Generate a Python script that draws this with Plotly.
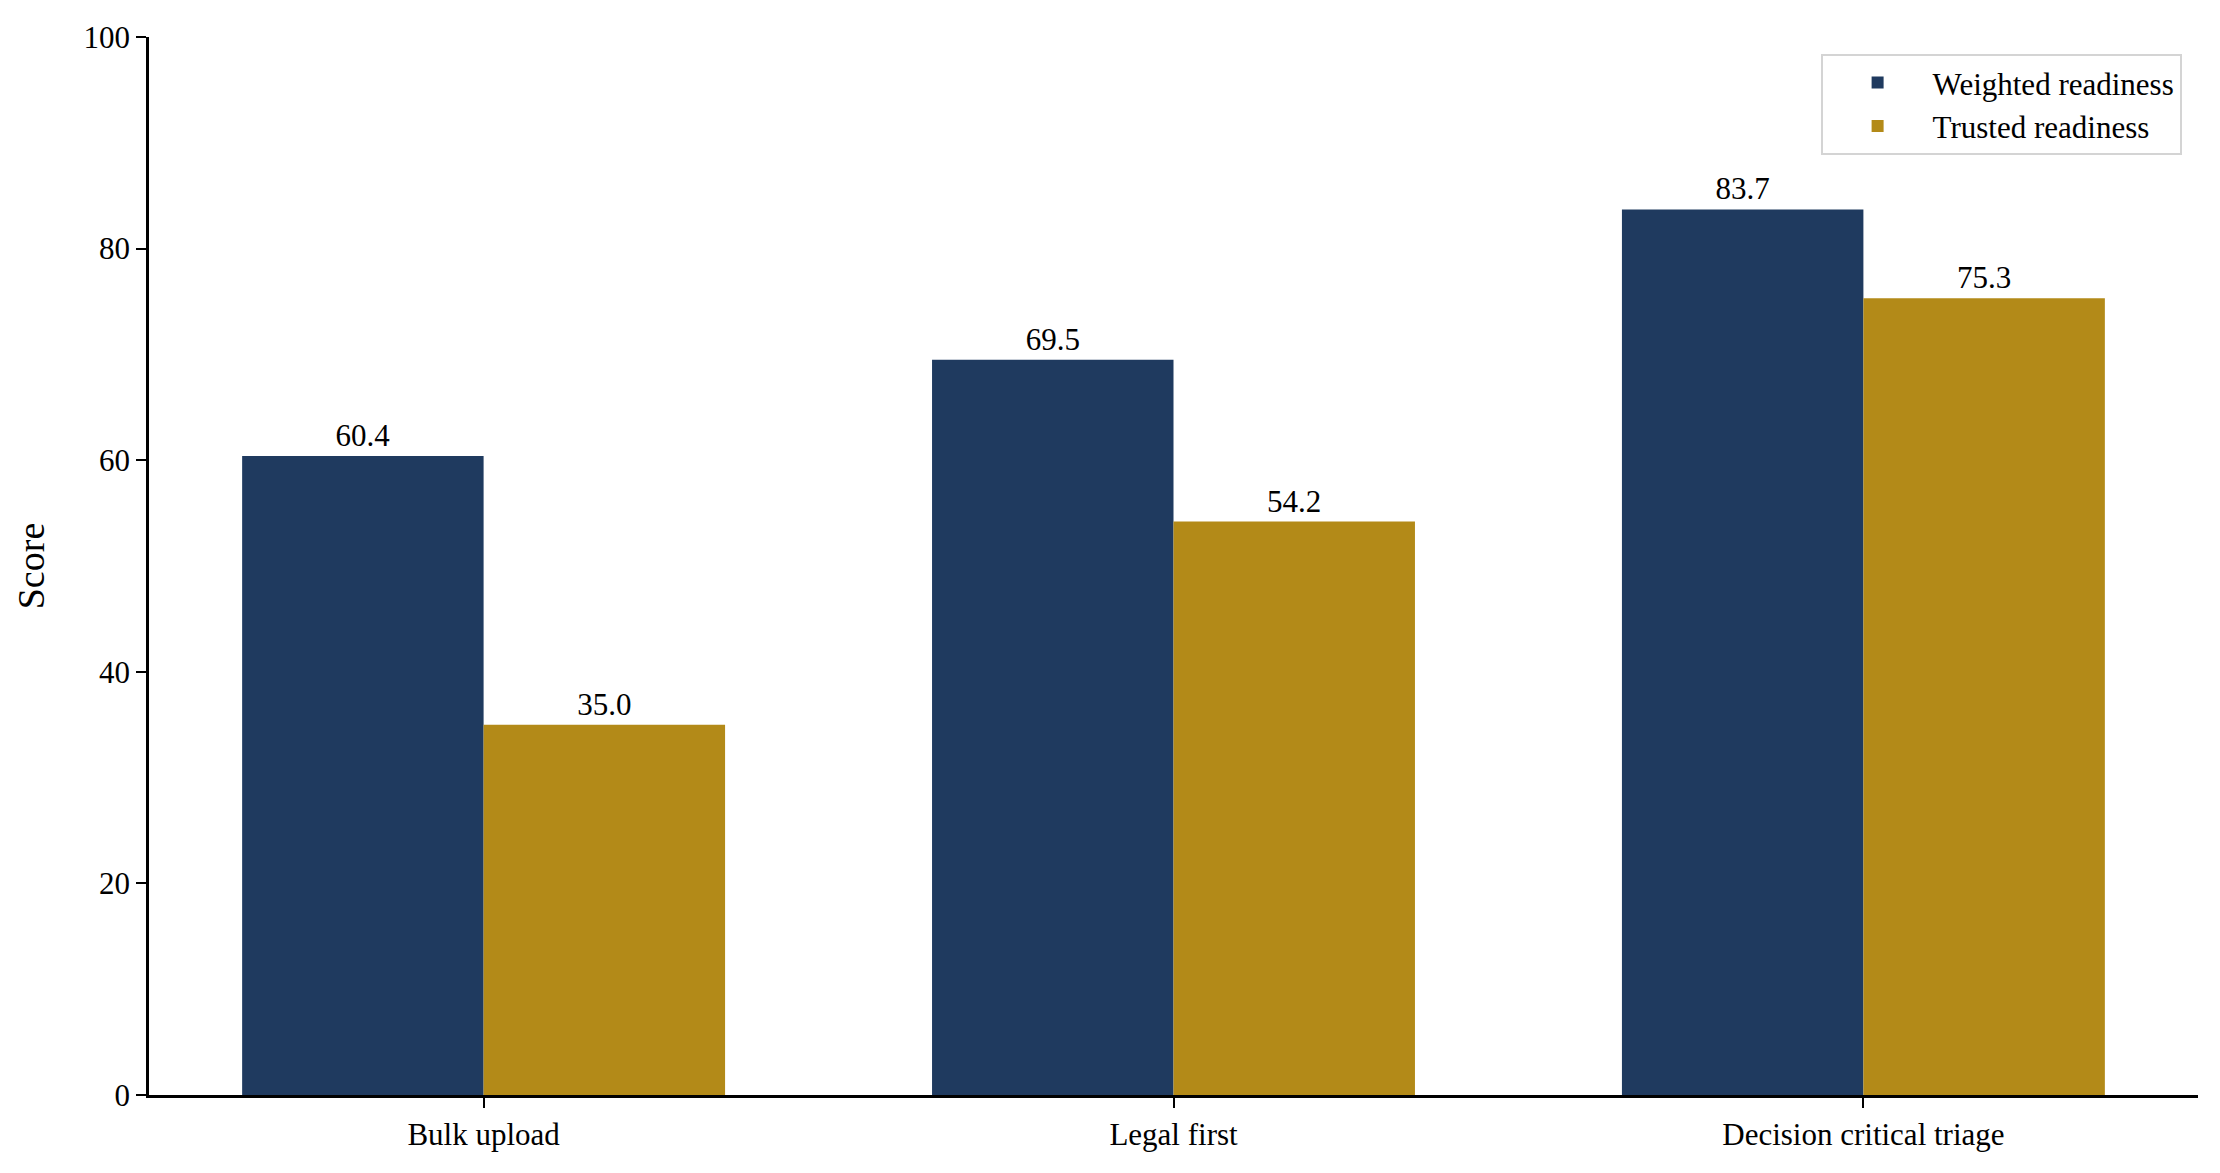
import plotly.graph_objects as go

categories = ["Bulk upload", "Legal first", "Decision critical triage"]
weighted = [60.4, 69.5, 83.7]
trusted = [35.0, 54.2, 75.3]
y_ticks = [0, 20, 40, 60, 80, 100]

NAVY = "#1f3a5f"
GOLD = "#b38a18"
FONT = "Liberation Serif, Times New Roman, serif"
TEXT_SIZE = 31

fig = go.Figure()
for name, values, color in [
    ("Weighted readiness", weighted, NAVY),
    ("Trusted readiness", trusted, GOLD),
]:
    fig.add_trace(
        go.Bar(
            x=categories,
            y=values,
            name=name,
            marker=dict(color=color, line=dict(width=0)),
            text=[f"{v:.1f}" for v in values],
            textposition="outside",
            textfont=dict(size=TEXT_SIZE, color="black"),
            cliponaxis=False,
        )
    )

# page body keeps its 8px default margin, so the figure is a bit smaller
fig.update_layout(
    width=2204,
    height=1157,
    margin=dict(l=141, r=14, t=27, b=70),
    barmode="group",
    bargap=0.3,
    bargroupgap=0,
    plot_bgcolor="white",
    paper_bgcolor="white",
    font=dict(family=FONT, size=TEXT_SIZE, color="black"),
    legend=dict(
        x=0.992,
        y=0.984,
        xanchor="right",
        yanchor="top",
        bgcolor="white",
        bordercolor="#d4d4d4",
        borderwidth=2,
        font=dict(size=TEXT_SIZE),
        itemwidth=100,
        tracegroupgap=6,
    ),
    uniformtext=dict(minsize=10, mode="show"),
)
fig.update_xaxes(
    range=[-0.485, 2.485],
    showline=True,
    linecolor="black",
    linewidth=2.5,
    ticks="outside",
    ticklen=10,
    tickwidth=2,
    tickcolor="black",
    showgrid=False,
    zeroline=False,
)
fig.update_yaxes(
    range=[0, 100],
    tickvals=y_ticks,
    showline=True,
    linecolor="black",
    linewidth=2.5,
    ticks="outside",
    ticklen=10,
    tickwidth=2,
    tickcolor="black",
    showgrid=False,
    zeroline=False,
    title=dict(text="Score", font=dict(size=38), standoff=28),
)

fig.write_html("out.html")
